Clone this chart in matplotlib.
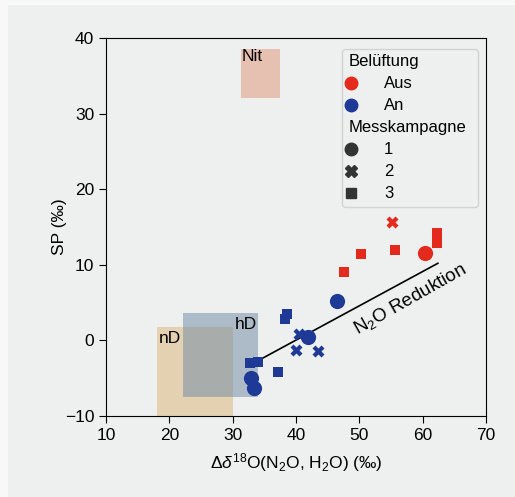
import matplotlib
matplotlib.use("Agg")
import matplotlib.pyplot as plt
from matplotlib.lines import Line2D
from matplotlib.patches import Rectangle

plt.rcParams['font.family'] = ['Liberation Sans', 'DejaVu Sans']
plt.rcParams['mathtext.fontset'] = 'custom'
plt.rcParams['mathtext.rm'] = 'Liberation Sans'
plt.rcParams['mathtext.it'] = 'Liberation Sans:italic'

# data: (d18O, SP) per Belüftung / Messkampagne
aus_c1_x = [60.3]
aus_c1_y = [11.6]
aus_c2_x = [55.2]
aus_c2_y = [15.6]
aus_c3_x = [47.6, 50.3, 55.7, 62.3, 62.3]
aus_c3_y = [9.0, 11.4, 12.0, 14.2, 12.9]

an_c1_x = [46.5, 41.9, 32.9, 33.4]
an_c1_y = [5.2, 0.5, -5.0, -6.3]
an_c2_x = [40.5, 40.0, 43.5]
an_c2_y = [0.9, -1.3, -1.4]
an_c3_x = [38.5, 38.2, 32.8, 34.0, 37.2]
an_c3_y = [3.5, 2.8, -3.0, -2.8, -4.2]

# source areas: name, x0, x1, y0, y1
boxes = [("nD", 18.0, 30.0, -10.0, 1.8),
         ("hD", 22.1, 34.0, -7.5, 3.6),
         ("Nit", 31.3, 37.5, 32.0, 38.6)]
box_colors = {"nD": "#dcb97e", "hD": "#7890a8", "Nit": "#e19c7e"}

# reduction line
red_x = [33.3, 62.4]
red_y = [-3.0, 10.2]

RED = "#e32a1c"
BLUE = "#1f3a96"
BG = "#eef0ef"
FS = 12.5

fig = plt.figure(figsize=(5.15, 4.97), dpi=100, facecolor="#f8f8f8")
fig.patches.append(Rectangle((8 / 515, 0), 1, 1 - 5 / 497, transform=fig.transFigure,
                             facecolor=BG, edgecolor="none", zorder=-5))
ax = fig.add_axes([106 / 515, 1 - 416 / 497, 380 / 515, 378 / 497])
ax.set_facecolor(BG)

for name, x0, x1, y0, y1 in boxes:
    ax.add_patch(Rectangle((x0, y0), x1 - x0, y1 - y0, facecolor=box_colors[name],
                           alpha=0.55, edgecolor="none", zorder=1))
ax.text(18.3, 1.3, "nD", fontsize=FS, va="top", ha="left", zorder=2)
ax.text(33.9, 3.1, "hD", fontsize=FS, va="top", ha="right", zorder=2)
ax.text(31.4, 38.5, "Nit", fontsize=FS, va="top", ha="left", zorder=2)

ax.plot(red_x, red_y, color="black", lw=1.2, zorder=3)
ax.text(58.0, 5.5, r"N$_2$O Reduktion", fontsize=13.5, rotation=29.5,
        ha="center", va="center", rotation_mode="anchor", zorder=3)

ax.scatter(aus_c1_x, aus_c1_y, s=120, marker="o", color=RED, zorder=4, linewidths=0)
ax.scatter(aus_c2_x, aus_c2_y, s=75, marker="X", color=RED, zorder=4, linewidths=0)
ax.scatter(aus_c3_x, aus_c3_y, s=55, marker="s", color=RED, zorder=4, linewidths=0)
ax.scatter(an_c1_x, an_c1_y, s=120, marker="o", color=BLUE, zorder=4, linewidths=0)
ax.scatter(an_c2_x, an_c2_y, s=75, marker="X", color=BLUE, zorder=4, linewidths=0)
ax.scatter(an_c3_x, an_c3_y, s=55, marker="s", color=BLUE, zorder=4, linewidths=0)

ax.set_xlim(10, 70)
ax.set_ylim(-10, 40)
ax.set_xticks([10, 20, 30, 40, 50, 60, 70])
ax.set_yticks([-10, 0, 10, 20, 30, 40])
ax.tick_params(labelsize=FS, length=5)
ax.set_xlabel(r"$\Delta\delta^{18}$O(N$_2$O, H$_2$O) (‰)", fontsize=FS, labelpad=6)
ax.set_ylabel("SP (‰)", fontsize=FS, labelpad=-2)

blank = Line2D([], [], linestyle="none")
handles = [blank,
           Line2D([], [], marker="o", color=RED, linestyle="none", markersize=9),
           Line2D([], [], marker="o", color=BLUE, linestyle="none", markersize=9),
           blank,
           Line2D([], [], marker="o", color="#333333", linestyle="none", markersize=9),
           Line2D([], [], marker="X", color="#333333", linestyle="none", markersize=8),
           Line2D([], [], marker="s", color="#333333", linestyle="none", markersize=6.5)]
labels = ["Belüftung", "Aus", "An", "Messkampagne", "1", "2", "3"]
leg = ax.legend(handles, labels, loc="upper right", fontsize=12, frameon=True,
                handlelength=0.35, handletextpad=0.0, borderpad=0.35, labelspacing=0.42,
                borderaxespad=0, bbox_to_anchor=(0.978, 0.972))
leg.get_frame().set_facecolor(BG)
leg.get_frame().set_edgecolor("#cccccc")
for t in leg.get_texts():
    if t.get_text() in ("Belüftung", "Messkampagne"):
        t.set_position((-5, 0))
    else:
        t.set_position((30, 0))

fig.savefig("out.png", dpi=100, facecolor=fig.get_facecolor())
